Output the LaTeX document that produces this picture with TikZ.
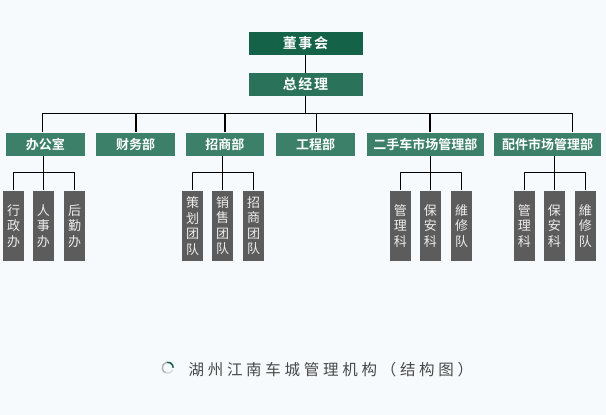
\documentclass[tikz,border=0pt]{standalone}
\usepackage{fontspec}
\newfontfamily\cjk{Noto Sans CJK SC}[BoldFont={Noto Sans CJK SC Bold}]
\definecolor{boardgreen}{RGB}{20,98,72}
\definecolor{gmgreen}{RGB}{42,115,90}
\definecolor{deptgreen}{RGB}{60,128,105}
\definecolor{teamgray}{RGB}{92,92,92}
\definecolor{paper}{RGB}{246,250,252}
\definecolor{captiongray}{RGB}{72,72,72}
\begin{document}
\begin{tikzpicture}[x=1pt,y=-1pt,line width=1.2pt,
  topbox/.style={rectangle,inner sep=0pt,minimum width=114pt,minimum height=22.5pt,text=white,font=\cjk\bfseries\fontsize{14}{14}\selectfont\addfontfeature{LetterSpace=12}},
  deptbox/.style={rectangle,fill=deptgreen,inner sep=0pt,minimum height=22.7pt,text=white,font=\cjk\bfseries\fontsize{13}{13}\selectfont},
  teambox/.style={rectangle,fill=teamgray,inner sep=0pt,minimum width=21pt,minimum height=70.5pt,text=white!93!black,align=center,font=\cjk\fontsize{13}{15.5}\selectfont}]
\fill[paper] (0,0) rectangle (606,415);
\useasboundingbox (0,0) rectangle (606,415);
\node[topbox,fill=boardgreen] (board) at (305.5,43.5) {董事会};
\node[topbox,fill=gmgreen] (gm) at (305.5,84.5) {总经理};
\draw (board)--(gm);
\node[deptbox,minimum width=78.7pt] (office) at (45.3,144.3) {办公室};
\node[deptbox,minimum width=78.4pt] (finance) at (135.5,144.3) {财务部};
\node[deptbox,minimum width=78.5pt] (invest) at (224.8,144.3) {招商部};
\node[deptbox,minimum width=79pt] (works) at (315.5,144.3) {工程部};
\node[deptbox,minimum width=116.6pt] (used) at (425.3,144.3) {二手车市场管理部};
\node[deptbox,minimum width=106.7pt] (parts) at (547.7,144.3) {配件市场管理部};
\foreach \d/\x in {office/42.5,finance/136,invest/225,works/316.5,used/430,parts/572.5}{
  \coordinate (\d-in) at (\x,113.3);
  \draw (\d-in) -- (\d-in |- \d.north);
}
\draw (gm.south) -- (gm.south |- office-in);
\draw (office-in) -- (parts-in);
% teams
\node[teambox] (office-1) at (13.5,225.8) {行\\政\\办};
\node[teambox] (office-2) at (43.5,225.8) {人\\事\\办};
\node[teambox] (office-3) at (74.5,225.8) {后\\勤\\办};
\node[teambox] (invest-1) at (192.5,225.8) {策\\划\\团\\队};
\node[teambox] (invest-2) at (222.5,225.8) {销\\售\\团\\队};
\node[teambox] (invest-3) at (253.5,225.8) {招\\商\\团\\队};
\node[teambox] (used-1) at (400.3,225.8) {管\\理\\科};
\node[teambox] (used-2) at (430.3,225.8) {保\\安\\科};
\node[teambox] (used-3) at (461.5,225.8) {維\\修\\队};
\node[teambox] (parts-1) at (524.3,225.8) {管\\理\\科};
\node[teambox] (parts-2) at (554.3,225.8) {保\\安\\科};
\node[teambox] (parts-3) at (585.3,225.8) {維\\修\\队};
\foreach \d in {office,invest,used,parts}{
  \draw (\d.south -| \d-2.north) -- (\d-2.north);
  \draw (\d-1.north) -- ++(0,-17.3) -| (\d-3.north);
}
% caption
\coordinate (logo) at (167.7,367.7);
\draw[boardgreen,line width=1.5pt] (logo) ++(5.5,0) arc[start angle=0,end angle=-100,radius=5.5];
\draw[gray!60,line width=1.5pt] (logo) ++(-100:5.5) arc[start angle=-100,end angle=-250,radius=5.5];
\draw[gray!30,line width=1.5pt] (logo) ++(-250:5.5) arc[start angle=-250,end angle=-335,radius=5.5];
\node[anchor=west,inner sep=0pt,text=captiongray,font=\cjk\fontsize{15.5}{15.5}\selectfont\addfontfeature{LetterSpace=24}] (caption) at (188,370) {湖州江南车城管理机构（结构图）};
\end{tikzpicture}
\end{document}
